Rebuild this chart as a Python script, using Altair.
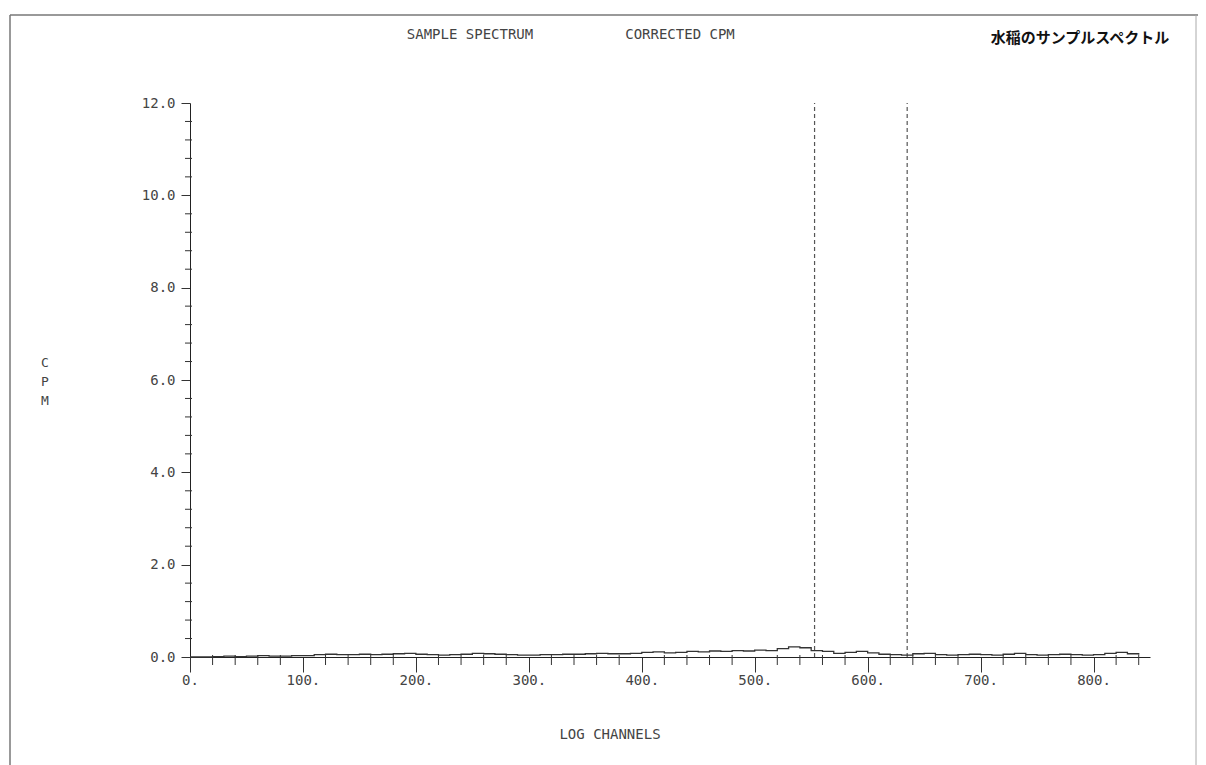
import altair as alt
import pandas as pd

# ---- data ----
channels = list(range(0, 850, 10))
cpm = [
    0.00, 0.00, 0.01, 0.02, 0.01, 0.02, 0.03, 0.02, 0.02, 0.03,
    0.03, 0.05, 0.06, 0.05, 0.05, 0.06, 0.05, 0.06, 0.07, 0.08,
    0.06, 0.05, 0.04, 0.05, 0.06, 0.08, 0.07, 0.06, 0.05, 0.04,
    0.04, 0.05, 0.05, 0.06, 0.06, 0.07, 0.08, 0.07, 0.07, 0.08,
    0.10, 0.11, 0.09, 0.10, 0.12, 0.11, 0.13, 0.12, 0.14, 0.13,
    0.15, 0.14, 0.18, 0.22, 0.20, 0.14, 0.12, 0.08, 0.10, 0.12,
    0.09, 0.06, 0.05, 0.04, 0.07, 0.08, 0.05, 0.04, 0.05, 0.06,
    0.05, 0.04, 0.06, 0.08, 0.05, 0.04, 0.05, 0.06, 0.05, 0.04,
    0.05, 0.08, 0.10, 0.07, 0.05,
]
window_edges = [553, 635]
window_top = 12.0
x_major = list(range(0, 801, 100))
x_minor = [v for v in range(0, 851, 20) if v % 100 != 0]
y_major = [0.0, 2.0, 4.0, 6.0, 8.0, 10.0, 12.0]
y_minor = [round(i * 0.4, 1) for i in range(31) if i % 5 != 0]

title_left = "SAMPLE SPECTRUM"
title_mid = "CORRECTED CPM"
title_jp = "水稲のサンプルスペクトル"
x_title = "LOG CHANNELS"
y_title = ["C", "P", "M"]

spec = pd.DataFrame({"ch": channels, "cpm": cpm})
win = pd.DataFrame({"ch": window_edges, "lo": [0.0] * 2, "hi": [window_top] * 2})
xm = pd.DataFrame({"v": x_minor})
ym = pd.DataFrame({"v": y_minor})

FONT = "DejaVu Sans Mono"
INK = "#444444"
H = 554

xscale = alt.Scale(domain=[0, 850], nice=False, zero=False)
yscale = alt.Scale(domain=[0, 12], nice=False)

x_axis = alt.Axis(
    values=x_major,
    title=None,
    grid=False,
    domainColor="#222222",
    tickColor="#333333",
    tickSize=15,
    labelExpr="datum.value + '.'",
    labelFont=FONT,
    labelFontSize=14,
    labelColor=INK,
    labelPadding=1,
    labelOverlap=False,
    labelFlush=False,
)
y_axis = alt.Axis(
    values=y_major,
    title=None,
    grid=False,
    domainColor="#222222",
    tickColor="#333333",
    tickSize=9,
    format=".1f",
    labelFont=FONT,
    labelFontSize=14,
    labelColor=INK,
    labelPadding=6,
    labelOverlap=False,
    labelFlush=False,
)

line = alt.Chart(spec).mark_line(interpolate="step-after", color="#333333", strokeWidth=1.3).encode(
    x=alt.X("ch:Q", scale=xscale, axis=x_axis),
    y=alt.Y("cpm:Q", scale=yscale, axis=y_axis),
)

xminor = alt.Chart(xm).mark_rule(color="#333333", strokeWidth=1).encode(
    x=alt.X("v:Q", scale=xscale), y=alt.value(H - 2), y2=alt.value(H + 8)
)
yminor = alt.Chart(ym).mark_rule(color="#333333", strokeWidth=1).encode(
    y=alt.Y("v:Q", scale=yscale), x=alt.value(-5), x2=alt.value(2)
)

rules = alt.Chart(win).mark_rule(color="#555555", strokeDash=[4, 3], strokeWidth=1.2).encode(
    x="ch:Q", y="lo:Q", y2="hi:Q"
)

def label(text, x, y, size=14, weight="normal", color=INK, font=FONT):
    return alt.Chart(pd.DataFrame({"t": [text]})).mark_text(
        font=font, fontSize=size, fontWeight=weight, color=color
    ).encode(text="t:N", x=alt.value(x), y=alt.value(y))

t1 = label(title_left, 280, -68)
t2 = label(title_mid, 490, -68)
t3 = label(title_jp, 890, -65, size=15, weight="bold", color="#111111", font="Noto Sans CJK JP")
tx = label(x_title, 420, 632)
ty = alt.Chart(pd.DataFrame({"t": [y_title]})).mark_text(
    font=FONT, fontSize=13, color=INK, lineHeight=19
).encode(text="t", x=alt.value(-145), y=alt.value(260))

# frame around the sheet
frame_left = alt.Chart(pd.DataFrame({"a": [0]})).mark_rule(color="#777777", strokeWidth=1.5).encode(
    x=alt.value(-180), y=alt.value(-88), y2=alt.value(662))
frame_top = alt.Chart(pd.DataFrame({"a": [0]})).mark_rule(color="#777777", strokeWidth=1.5).encode(
    x=alt.value(-180), x2=alt.value(1008), y=alt.value(-88))
frame_right = alt.Chart(pd.DataFrame({"a": [0]})).mark_rule(color="#aaaaaa", strokeWidth=1).encode(
    x=alt.value(1006), y=alt.value(-88), y2=alt.value(662))

chart = alt.layer(
    frame_left, frame_top, frame_right, xminor, yminor, rules, line, t1, t2, t3, tx, ty
).properties(
    width=960,
    height=H,
    background="white",
    padding={"left": 190, "top": 103, "right": 56, "bottom": 108},
    autosize=alt.AutoSizeParams(type="none"),
).configure_view(stroke="transparent", strokeWidth=0)

chart.save("out.html", embed_options={"renderer": "svg", "actions": False})
